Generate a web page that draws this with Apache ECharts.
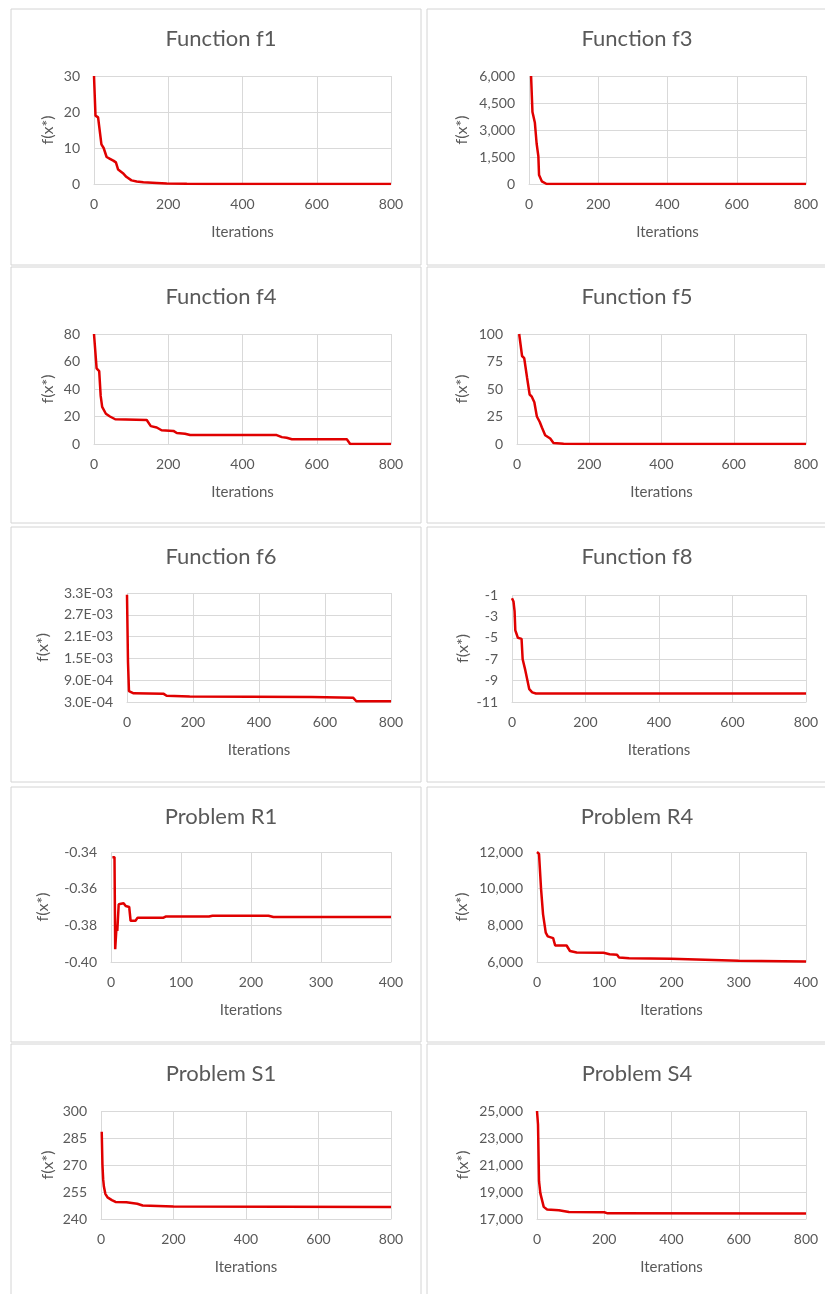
<!DOCTYPE html>
<html>
<head>
<meta charset="utf-8">
<script src="https://cdn.jsdelivr.net/npm/echarts@6/dist/echarts.min.js"></script>
<style>
  html, body { margin: 0; padding: 0; background: #fff; }
  #chart { width: 825px; height: 1294px; }
</style>
</head>
<body>
<div id="chart"></div>
<script>
// convergence data (iteration, best f(x*))
const f1Iter = [0, 4, 11, 14, 20, 26, 34, 43, 52, 59, 65, 78, 87, 101, 115, 133, 169, 196, 250, 303, 800]
const f1Val = [30, 19, 18.5, 16, 11, 10, 7.5, 7, 6.5, 6, 4, 3, 2, 1, 0.7, 0.5, 0.3, 0.15, 0.05, 0, 0]

const f3Iter = [6, 10, 17, 22, 27, 29, 37, 51, 800]
const f3Val = [6000, 4000, 3400, 2250, 1550, 500, 150, 0, 0]

const f4Iter = [0, 7, 14, 18, 22, 32, 43, 57, 142, 153, 169, 182, 214, 223, 245, 259, 492, 506, 519, 533, 681, 690, 800]
const f4Val = [80, 55, 53, 35, 27, 22, 20, 18, 17.5, 13, 12, 10, 9.5, 8, 7.5, 6.5, 6.5, 5, 4.5, 3.5, 3.5, 0, 0]

const f5Iter = [6, 14, 20, 28, 35, 41, 48, 55, 63, 69, 78, 92, 101, 129, 175, 800]
const f5Val = [100, 80, 78, 60, 45, 43, 38, 25, 20, 15, 8, 5, 1, 0.3, 0, 0]

const f6Iter = [0, 3, 6, 10, 20, 110, 120, 190, 560, 565, 685, 695, 800]
const f6Val = [3.25e-3, 1.4e-3, 6e-4, 5.6e-4, 5.4e-4, 5.3e-4, 4.7e-4, 4.5e-4, 4.4e-4, 4.2e-4, 4.2e-4, 3.2e-4, 3.2e-4]

const f8Iter = [0, 4, 7, 9, 12, 16, 26, 29, 36, 42, 47, 55, 65, 800]
const f8Val = [-1.3, -1.6, -2.5, -4.3, -4.6, -5.0, -5.1, -7.0, -8.0, -9.0, -9.8, -10.1, -10.2, -10.2]

const r1Iter = [2, 5, 6, 7, 8, 9, 11, 18, 21, 26, 28, 35, 38, 75, 78, 140, 145, 225, 232, 400]
const r1Val = [-0.3428, -0.3428, -0.393, -0.392, -0.38, -0.383, -0.3685, -0.368, -0.3695, -0.37, -0.3775, -0.3775, -0.3758, -0.3758, -0.3752, -0.3752, -0.3748, -0.3748, -0.3755, -0.3755]

const r4Iter = [0, 3, 5, 6, 9, 13, 16, 24, 27, 44, 49, 59, 99, 108, 119, 122, 137, 199, 201, 300, 400]
const r4Val = [12000, 11900, 11800, 10000, 8600, 7600, 7400, 7300, 6900, 6900, 6600, 6520, 6500, 6420, 6400, 6250, 6200, 6180, 6100, 6070, 6030]

const s1Iter = [2, 4, 6, 8, 12, 18, 30, 40, 70, 100, 115, 200, 800]
const s1Val = [288.5, 270, 262, 258, 254, 252, 250.5, 249.5, 249.3, 248.5, 247.5, 246.9, 246.6]

const s4Iter = [0, 3, 6, 10, 20, 30, 65, 95, 200, 210, 800]
const s4Val = [25000, 24000, 19800, 18900, 17900, 17700, 17650, 17520, 17500, 17420, 17400]

const titles = ['Function f1', 'Function f3', 'Function f4', 'Function f5', 'Function f6',
  'Function f8', 'Problem R1', 'Problem R4', 'Problem S1', 'Problem S4']

// axis ranges per panel: [xMax, xStep, yMin, yMax, yStep]
const ranges = [
  [800, 200, 0, 30, 10],
  [800, 200, 0, 6000, 1500],
  [800, 200, 0, 80, 20],
  [800, 200, 0, 100, 25],
  [800, 200, 3e-4, 3.3e-3, 6e-4],
  [800, 200, -11, -1, 2],
  [400, 100, -0.4, -0.34, 0.02],
  [400, 100, 6000, 12000, 2000],
  [800, 200, 240, 300, 15],
  [800, 200, 17000, 25000, 2000]
]

const seriesData = [
  [f1Iter, f1Val], [f3Iter, f3Val], [f4Iter, f4Val], [f5Iter, f5Val], [f6Iter, f6Val],
  [f8Iter, f8Val], [r1Iter, r1Val], [r4Iter, r4Val], [s1Iter, s1Val], [s4Iter, s4Val]
]

// plot areas in page pixels: [left, top, width, height, yNameGap]
const plots = [
  [94, 76, 297, 108, 38],
  [529, 76, 277, 108, 59],
  [94, 334, 297, 110, 38],
  [517, 334, 289, 110, 47],
  [127, 593, 264, 109, 76],
  [512, 595, 294, 107, 41],
  [111, 852, 280, 110, 60],
  [537, 852, 269, 110, 67],
  [101, 1111, 290, 108, 45],
  [537, 1111, 269, 108, 66]
]

const panelTops = [9, 267, 527, 787, 1044]
const panelBottoms = [265, 523, 782, 1042, 1310]

const font = 'Lato, "Open Sans", sans-serif'
const textColor = '#595959'
const gridColor = '#d9d9d9'

const yFormat = (i) => (v) => {
  if (i === 4) {
    const [m, e] = v.toExponential(1).split('e')
    const n = Math.abs(parseInt(e))
    return m + 'E' + (parseInt(e) < 0 ? '-' : '+') + (n < 10 ? '0' + n : n)
  }
  if (i === 6) return v.toFixed(2)
  return echarts.format.addCommas(Math.round(v))
}

const chart = echarts.init(document.getElementById('chart'))

const graphic = []
panelTops.forEach((top, r) => {
  ;[[11, 410], [427, 420]].forEach(([x, w]) => {
    graphic.push({
      type: 'rect',
      shape: { x: x, y: top, width: w, height: panelBottoms[r] - top },
      style: { fill: '#fff', stroke: '#d4d4d4', lineWidth: 1 },
      silent: true,
      z: -10
    })
  })
})

const option = {
  backgroundColor: '#fff',
  animation: false,
  graphic: graphic,
  title: titles.map((t, i) => ({
    text: t,
    left: (i % 2 === 0 ? 216 : 632),
    top: panelTops[Math.floor(i / 2)] + 14,
    textAlign: 'center',
    textStyle: { fontFamily: font, fontSize: 22, fontWeight: 'normal', color: textColor }
  })),
  grid: plots.map(p => ({ left: p[0], top: p[1], width: p[2], height: p[3], containLabel: false })),
  xAxis: ranges.map((r, i) => ({
    type: 'value',
    gridIndex: i,
    min: 0,
    max: r[0],
    interval: r[1],
    name: 'Iterations',
    nameLocation: 'middle',
    nameGap: 41,
    nameTextStyle: { fontFamily: font, fontSize: 15, color: textColor },
    axisLine: { show: true, lineStyle: { color: gridColor } },
    axisTick: { show: false },
    axisLabel: { fontFamily: font, fontSize: 14, color: textColor, margin: 13 },
    splitLine: { show: true, lineStyle: { color: gridColor } }
  })),
  yAxis: ranges.map((r, i) => ({
    type: 'value',
    gridIndex: i,
    min: r[2],
    max: r[3],
    interval: r[4],
    name: 'f(x*)',
    nameLocation: 'middle',
    nameGap: plots[i][4],
    nameTextStyle: { fontFamily: font, fontSize: 16, color: textColor },
    axisLine: { show: false },
    axisTick: { show: false },
    axisLabel: { fontFamily: font, fontSize: 14, color: textColor, margin: 14, formatter: yFormat(i) },
    splitLine: { show: true, lineStyle: { color: gridColor } }
  })),
  series: seriesData.map(([xs, ys], i) => ({
    type: 'line',
    xAxisIndex: i,
    yAxisIndex: i,
    showSymbol: false,
    data: xs.map((x, k) => [x, ys[k]]),
    lineStyle: { color: '#e00000', width: 2.5 },
    clip: true
  }))
}

chart.setOption(option)
</script>
</body>
</html>
